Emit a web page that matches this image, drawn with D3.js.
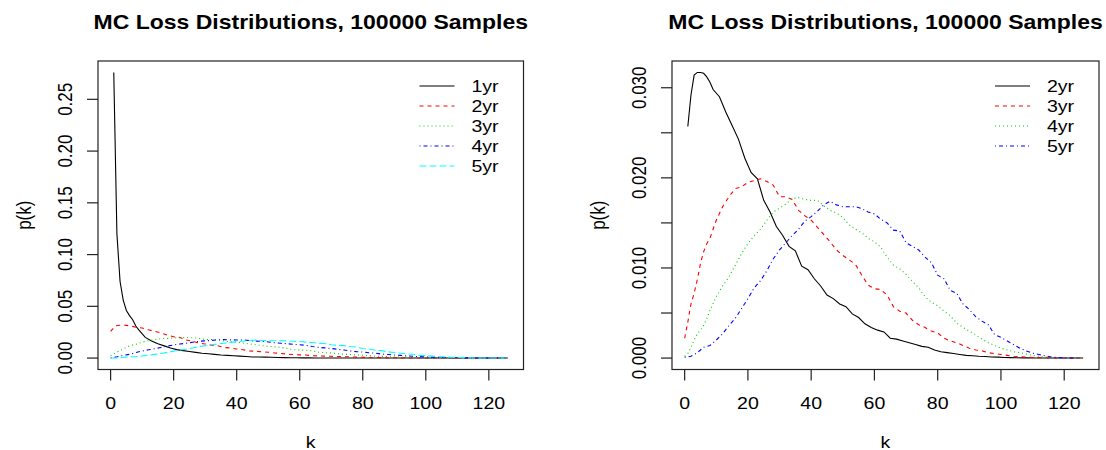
<!DOCTYPE html>
<html>
<head>
<meta charset="utf-8">
<script src="https://cdn.jsdelivr.net/npm/d3@7"></script>
<style>
  body { margin: 0; background: #fff; }
  text { font-family: "Liberation Sans", Arial, sans-serif; fill: #000; }
</style>
</head>
<body>
<svg id="chart" width="1106" height="450"></svg>
<script>
// loss index k (0-based sample index of each curve)
const lossIdx = [0, 1, 2, 3, 4, 5, 6, 7, 8,
    10, 12, 14, 16, 18, 20, 22, 24, 26, 28, 30, 32, 34, 36, 38, 40, 42, 44, 46, 48,
    50, 52, 54, 56, 58, 60, 62, 64, 66, 68, 70, 72, 74, 76, 78, 80, 82, 84, 86, 88,
    90, 92, 94, 96, 98, 100, 102, 104, 106, 108, 110, 112, 114, 116, 118, 120, 122, 124,
    125];

const p1yr = [0.276, 0.120, 0.074, 0.056, 0.046, 0.041, 0.037, 0.031, 0.027,
    0.0200, 0.0165, 0.0138, 0.0118, 0.0098, 0.0082, 0.0072, 0.0063, 0.0055, 0.0047, 0.0042, 0.0036, 0.0030, 0.0026, 0.0022, 0.0019, 0.0015, 0.0011, 0.0010, 0.0009,
    0.0008, 0.0006, 0.0004, 0.0003, 0.0003, 0.0002, 0.0002, 0.0001, 0.0001, 0.0001, 0, 0, 0, 0, 0, 0, 0, 0, 0, 0,
    0, 0, 0, 0, 0, 0, 0, 0, 0, 0, 0, 0, 0, 0, 0, 0, 0, 0,
    0];

const p2yr = [0.0257, 0.0292, 0.0314, 0.0317, 0.0317, 0.0316, 0.0312, 0.0306, 0.0298,
    0.0290, 0.0273, 0.0258, 0.0243, 0.0222, 0.0206, 0.0199, 0.0175, 0.0162, 0.0146, 0.0136, 0.0124, 0.0119, 0.0102, 0.0098, 0.0088, 0.0080, 0.0070, 0.0066, 0.0060,
    0.0057, 0.0049, 0.0045, 0.0038, 0.0034, 0.0031, 0.0029, 0.0022, 0.0021, 0.0019, 0.0017, 0.0015, 0.0013, 0.0012, 0.0009, 0.0007, 0.0006, 0.0005, 0.0004, 0.0003,
    0.00025, 0.0002, 0.00018, 0.00012, 0.0001, 0.00007, 0.00005, 0.00003, 0.00002, 0.00002, 0.00001, 0.00001, 0, 0, 0, 0, 0, 0,
    0];

const p3yr = [0.0022, 0.0040, 0.0060, 0.0072, 0.0087, 0.0105, 0.0118, 0.0127, 0.0133,
    0.0153, 0.0168, 0.0179, 0.0188, 0.0190, 0.0195, 0.0197, 0.0199, 0.0196, 0.0192, 0.0179, 0.0179, 0.0176, 0.0164, 0.0158, 0.0153, 0.0145, 0.0137, 0.0129, 0.0120,
    0.0114, 0.0109, 0.0104, 0.0092, 0.0081, 0.0077, 0.0076, 0.0070, 0.0057, 0.0052, 0.0050, 0.0042, 0.0037, 0.0034, 0.0030, 0.0028, 0.0022, 0.0019, 0.0017, 0.0014,
    0.0011, 0.0009, 0.0008, 0.0006, 0.0005, 0.0004, 0.0003, 0.0002, 0.00015, 0.0001, 0.00007, 0.00005, 0.00003, 0.00002, 0.00001, 0.00001, 0, 0,
    0];

const p4yr = [0.0002, 0.0005, 0.0012, 0.0020, 0.0027, 0.0031, 0.0036, 0.0044, 0.0053,
    0.0068, 0.0080, 0.0090, 0.0103, 0.0116, 0.0127, 0.0136, 0.0143, 0.0153, 0.0162, 0.0166, 0.0171, 0.0177, 0.0178, 0.0176, 0.0175, 0.0175, 0.0169, 0.0164, 0.0161,
    0.0156, 0.0148, 0.0143, 0.0139, 0.0133, 0.0129, 0.0123, 0.0112, 0.0103, 0.0099, 0.0093, 0.0085, 0.0078, 0.0068, 0.0062, 0.0058, 0.0052, 0.0047, 0.0039, 0.0034,
    0.0030, 0.0026, 0.0021, 0.0017, 0.0014, 0.0011, 0.0009, 0.0007, 0.0006, 0.00045, 0.0003, 0.0002, 0.00012, 0.00006, 0.00003, 0.00001, 0.00001, 0,
    0];

const p5yr = [0.0001, 0.00012, 0.0002, 0.0004, 0.0006, 0.0009, 0.0012, 0.0013, 0.0014,
    0.0020, 0.0027, 0.0036, 0.0044, 0.0055, 0.0066, 0.0078, 0.0086, 0.0097, 0.0110, 0.0120, 0.0128, 0.0136, 0.0143, 0.0152, 0.0157, 0.0163, 0.0170, 0.0174, 0.0170,
    0.0168, 0.0168, 0.0168, 0.0166, 0.0162, 0.0160, 0.0154, 0.0150, 0.0142, 0.0141, 0.0128, 0.0124, 0.0120, 0.0112, 0.0106, 0.0092, 0.0088, 0.0075, 0.0072, 0.0060,
    0.0054, 0.0046, 0.0041, 0.0037, 0.0026, 0.0023, 0.0019, 0.0015, 0.0011, 0.0008, 0.00055, 0.0004, 0.00025, 0.00012, 0.00005, 0.00003, 0.00001, 0,
    0];

const xTicks = [0, 20, 40, 60, 80, 100, 120];
const yTicksLeft = [0, 0.05, 0.10, 0.15, 0.20, 0.25];
const yTicksRight = [0, 0.005, 0.010, 0.015, 0.020, 0.025, 0.030];
const yLabelsRight = [0, 0.010, 0.020, 0.030];

const titleText = "MC Loss Distributions, 100000 Samples";

// R default palette + line types
const palette = ["#000000", "#ff0000", "#00cd00", "#0000ff", "#00ffff"];
const dashes = [null, "4,4", "1,3", "1,3,4,3", "7,3"];

const svg = d3.select("#chart");
const stretch = 1.15; // the source image is a bit wider than tall

const addText = (g, x, y, str, opts = {}) => {
    let tr = `translate(${x},${y}) scale(${stretch},1)`;
    if (opts.rotate) tr += " rotate(-90)";
    return g.append("text")
        .attr("transform", tr)
        .attr("text-anchor", opts.anchor || "middle")
        .attr("dominant-baseline", opts.baseline || "central")
        .style("font-size", (opts.size || 17) + "px")
        .style("font-weight", opts.bold ? "bold" : "normal")
        .text(str);
}

// R pads the range of the first plotted series by 4% on each side
const padded = (lo, hi) => {
    const d = (hi - lo) * 0.04;
    return [lo - d, hi + d];
}

const drawPanel = (box, series, names, yTicks, yLabels, yFormat) => {
    const g = svg.append("g");

    // first series goes through plot(y) so it sits at index 1..n
    const xFirst = lossIdx.map(k => k + 1);
    const x = d3.scaleLinear()
        .domain(padded(d3.min(xFirst), d3.max(xFirst)))
        .range([box.left, box.right]);
    const y = d3.scaleLinear()
        .domain(padded(d3.min(series[0]), d3.max(series[0])))
        .range([box.bottom, box.top]);

    // curves
    series.forEach((vals, s) => {
        const shift = s === 0 ? 1 : 0;
        const line = d3.line()
            .x((d, i) => x(lossIdx[i] + shift))
            .y(d => y(d));
        g.append("path")
            .datum(vals)
            .attr("d", line)
            .attr("fill", "none")
            .attr("stroke", palette[s])
            .attr("stroke-width", 1.1)
            .attr("stroke-dasharray", dashes[s]);
    });

    // frame
    g.append("rect")
        .attr("x", box.left).attr("y", box.top)
        .attr("width", box.right - box.left)
        .attr("height", box.bottom - box.top)
        .attr("fill", "none")
        .attr("stroke", "#222")
        .attr("stroke-width", 1.2);

    // x axis
    xTicks.forEach(t => {
        g.append("line")
            .attr("x1", x(t)).attr("x2", x(t))
            .attr("y1", box.bottom).attr("y2", box.bottom + 11)
            .attr("stroke", "#222").attr("stroke-width", 1.2);
        addText(g, x(t), box.bottom + 33, t);
    });
    addText(g, (box.left + box.right) / 2, box.bottom + 72, "k");

    // y axis
    yTicks.forEach(t => {
        g.append("line")
            .attr("x1", box.left - 11).attr("x2", box.left)
            .attr("y1", y(t)).attr("y2", y(t))
            .attr("stroke", "#222").attr("stroke-width", 1.2);
    });
    yLabels.forEach(t => {
        addText(g, box.left - 33, y(t), d3.format(yFormat)(t), {rotate: true});
    });
    addText(g, box.left - 74, (box.top + box.bottom) / 2, "p(k)", {rotate: true});

    // title
    addText(g, (box.left + box.right) / 2, 29, titleText, {size: 20, bold: true, baseline: "auto"});

    // legend (no box), top right
    names.forEach((name, s) => {
        const ly = 86 + s * 20;
        g.append("line")
            .attr("x1", box.right - 104).attr("x2", box.right - 69)
            .attr("y1", ly).attr("y2", ly)
            .attr("stroke", palette[s])
            .attr("stroke-width", 1.1)
            .attr("stroke-dasharray", dashes[s]);
        addText(g, box.right - 52, ly, name, {anchor: "start"});
    });
}

drawPanel({left: 98, right: 523.5, top: 61, bottom: 369.5},
    [p1yr, p2yr, p3yr, p4yr, p5yr],
    ["1yr", "2yr", "3yr", "4yr", "5yr"],
    yTicksLeft, yTicksLeft, ".2f");

drawPanel({left: 672, right: 1099, top: 61, bottom: 369.5},
    [p2yr, p3yr, p4yr, p5yr],
    ["2yr", "3yr", "4yr", "5yr"],
    yTicksRight, yLabelsRight, ".3f");
</script>
</body>
</html>
